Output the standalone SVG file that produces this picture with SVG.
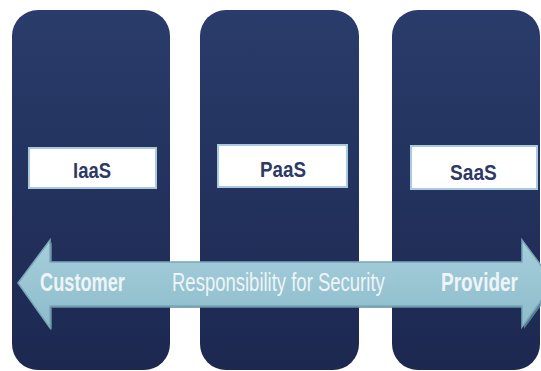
<svg xmlns="http://www.w3.org/2000/svg" width="541" height="371" viewBox="0 0 541 371">
  <defs>
    <linearGradient id="colGrad" x1="0" y1="0" x2="0" y2="1">
      <stop offset="0" stop-color="#2a3c6b"/>
      <stop offset="1" stop-color="#1c2850"/>
    </linearGradient>
    <linearGradient id="arrowGrad" x1="0" y1="0" x2="0" y2="1">
      <stop offset="0" stop-color="#a6cedb"/>
      <stop offset="1" stop-color="#8dbccb"/>
    </linearGradient>
  </defs>
  <style>
    .col { fill: url(#colGrad); }
    .box { fill: #ffffff; stroke: #a9cade; stroke-width: 2; }
    .lbl { font-family: "Liberation Sans", Arial, sans-serif; font-weight: bold; font-size: 22px; fill: #2e3a66; }
    .arr { font-family: "Liberation Sans", Arial, sans-serif; font-size: 26px; fill: #eef4f7; }
    .b { font-weight: bold; }
  </style>
  <rect width="541" height="371" fill="#ffffff"/>

  <g id="iaas">
    <rect class="col" x="12" y="10" width="158" height="360" rx="26" ry="26"/>
    <rect class="box" x="29" y="148" width="127" height="40"/>
    <text class="lbl" transform="translate(73,178) scale(0.84,1)">IaaS</text>
  </g>

  <g id="paas">
    <rect class="col" x="200" y="10" width="159" height="360" rx="26" ry="26"/>
    <rect class="box" x="218" y="145" width="129" height="42"/>
    <text class="lbl" transform="translate(260,177) scale(0.855,1)">PaaS</text>
  </g>

  <g id="saas">
    <rect class="col" x="392" y="10" width="148" height="360" rx="26" ry="26"/>
    <rect class="box" x="411" y="146" width="126" height="43"/>
    <text class="lbl" transform="translate(450,180) scale(0.87,1)">SaaS</text>
  </g>

  <g id="connectors">
    <polygon points="20,285 52,242 52,264 524,264 524,242 556,285 524,329 524,308 52,308 52,330" fill="#5f8ea3" opacity="0.8"/>
    <polygon points="18,283 50,240 50,262 522,262 522,240 554,283 522,327 522,306 50,306 50,328" fill="url(#arrowGrad)" stroke="#7aa6b8" stroke-width="1.5"/>
    <text class="arr b" transform="translate(40,291) scale(0.70,1)">Customer</text>
    <text class="arr" transform="translate(172,291) scale(0.712,1)">Responsibility for Security</text>
    <text class="arr b" transform="translate(441,291) scale(0.73,1)">Provider</text>
  </g>
</svg>
